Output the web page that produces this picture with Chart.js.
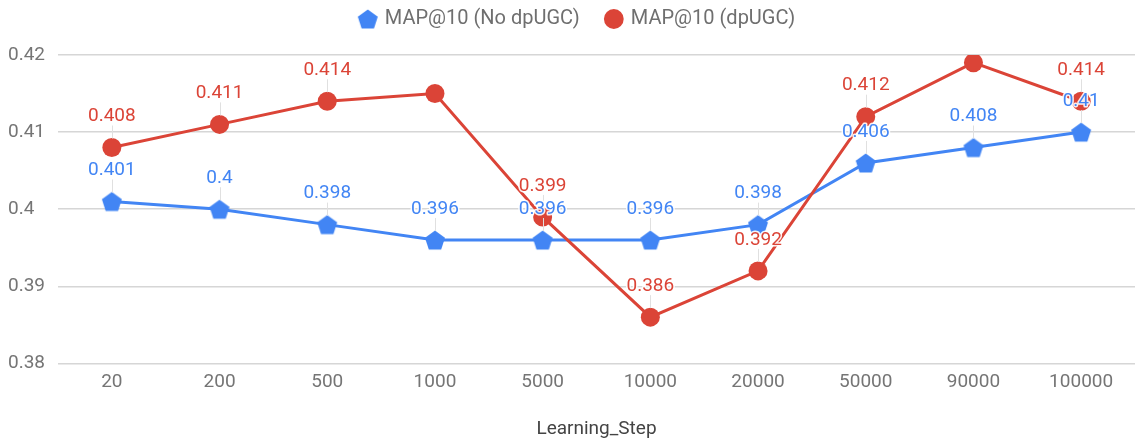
<!DOCTYPE html>
<html>
<head>
<meta charset="utf-8">
<script src="https://cdn.jsdelivr.net/npm/chart.js@4.4.1/dist/chart.umd.min.js"></script>
<style>
html,body{margin:0;padding:0;background:#fff;}
#wrap{width:1148px;height:438px;position:relative;}
</style>
</head>
<body>
<div id="wrap"><canvas id="c"></canvas></div>
<script>
const categories = ['20','200','500','1000','5000','10000','20000','50000','90000','100000'];
const seriesNames = ['MAP@10 (No dpUGC)', 'MAP@10 (dpUGC)'];
const noDpUGC = [0.401, 0.4, 0.398, 0.396, 0.396, 0.396, 0.398, 0.406, 0.408, 0.41];
const dpUGC = [0.408, 0.411, 0.414, 0.415, 0.399, 0.386, 0.392, 0.412, 0.419, 0.414];
const yTicks = [0.38, 0.39, 0.4, 0.41, 0.42];
const xTitle = 'Learning_Step';

const BLUE = '#4285F4', RED = '#DB4437';
const FONT = 'Roboto, "Noto Sans", sans-serif';

function pentagon(size, r, color){
  const c = document.createElement('canvas');
  c.width = size; c.height = size;
  const g = c.getContext('2d');
  g.fillStyle = color;
  g.beginPath();
  for (let k = 0; k < 5; k++){
    const a = -Math.PI/2 + k*2*Math.PI/5;
    const x = size/2 + r*Math.cos(a), y = size/2 + 1 + r*Math.sin(a);
    if (k === 0) g.moveTo(x, y); else g.lineTo(x, y);
  }
  g.closePath(); g.fill();
  return c;
}
const pent = pentagon(22, 10.5, BLUE);

const labelPlugin = {
  id: 'valueLabels',
  afterDatasetsDraw(chart){
    const ctx = chart.ctx, area = chart.chartArea;
    const items = [];
    [1, 0].forEach(di => {
      const meta = chart.getDatasetMeta(di);
      const ds = chart.data.datasets[di];
      meta.data.forEach((el, i) => {
        const ly = el.y - 31;
        if (ly - 9 < area.top + 3) return;
        items.push({x: el.x, y: el.y, ly, text: String(ds.data[i]), color: ds.borderColor});
      });
    });
    ctx.save();
    ctx.strokeStyle = '#e0e0e0';
    ctx.lineWidth = 1;
    items.forEach(it => {
      ctx.beginPath();
      ctx.moveTo(Math.round(it.x)+0.5, it.ly + 9);
      ctx.lineTo(Math.round(it.x)+0.5, it.y - 9);
      ctx.stroke();
    });
    ctx.font = '19px ' + FONT;
    ctx.textAlign = 'center';
    ctx.textBaseline = 'middle';
    ctx.lineJoin = 'round';
    items.forEach(it => {
      ctx.strokeStyle = 'rgba(255,255,255,0.9)';
      ctx.lineWidth = 3;
      ctx.strokeText(it.text, it.x, it.ly);
      ctx.fillStyle = it.color;
      ctx.fillText(it.text, it.x, it.ly);
    });
    ctx.restore();
  }
};

new Chart(document.getElementById('c'), {
  type: 'line',
  data: {
    labels: categories,
    datasets: [
      {
        label: seriesNames[0], data: noDpUGC, borderColor: BLUE, backgroundColor: BLUE,
        borderWidth: 3, pointStyle: pent, pointRadius: 10, pointHoverRadius: 10,
        tension: 0, order: 1
      },
      {
        label: seriesNames[1], data: dpUGC, borderColor: RED, backgroundColor: RED,
        borderWidth: 3, pointStyle: 'circle', pointRadius: 9.5, pointHoverRadius: 9.5,
        pointBorderWidth: 0, tension: 0, order: 0
      }
    ]
  },
  options: {
    responsive: true,
    maintainAspectRatio: false,
    animation: false,
    layout: { padding: { left: 8, right: 0, top: -18, bottom: -3 } },
    plugins: {
      legend: {
        position: 'top',
        labels: {
          usePointStyle: true,
          boxWidth: 14, boxHeight: 14,
          padding: 27,
          color: '#6f6f6f',
          font: { family: FONT, size: 20 },
          sort: (a, b) => a.datasetIndex - b.datasetIndex
        }
      },
      subtitle: {
        display: true, text: ' ', weight: 500,
        font: { size: 1, lineHeight: 1 },
        padding: { top: 0, bottom: 15 }
      },
      tooltip: { enabled: false }
    },
    scales: {
      x: {
        offset: true,
        grid: { display: false, drawTicks: false, offset: true },
        border: { display: false },
        ticks: { color: '#757575', font: { family: FONT, size: 19 }, padding: 7 },
        title: { display: true, text: xTitle, color: '#444', font: { family: FONT, size: 19 }, padding: { top: 18, bottom: 0 } }
      },
      y: {
        min: yTicks[0], max: yTicks[yTicks.length-1],
        afterBuildTicks: s => { s.ticks = yTicks.map(v => ({value: v})); },
        afterFit: s => { s.width = 50; },
        grid: { color: '#d6d6d6', lineWidth: 1.5, drawTicks: false },
        border: { display: false },
        ticks: {
          color: '#757575', font: { family: FONT, size: 19 }, padding: 12,
          crossAlign: 'far',
          callback: v => String(+v.toFixed(2))
        }
      }
    }
  },
  plugins: [labelPlugin]
});
</script>
</body>
</html>
